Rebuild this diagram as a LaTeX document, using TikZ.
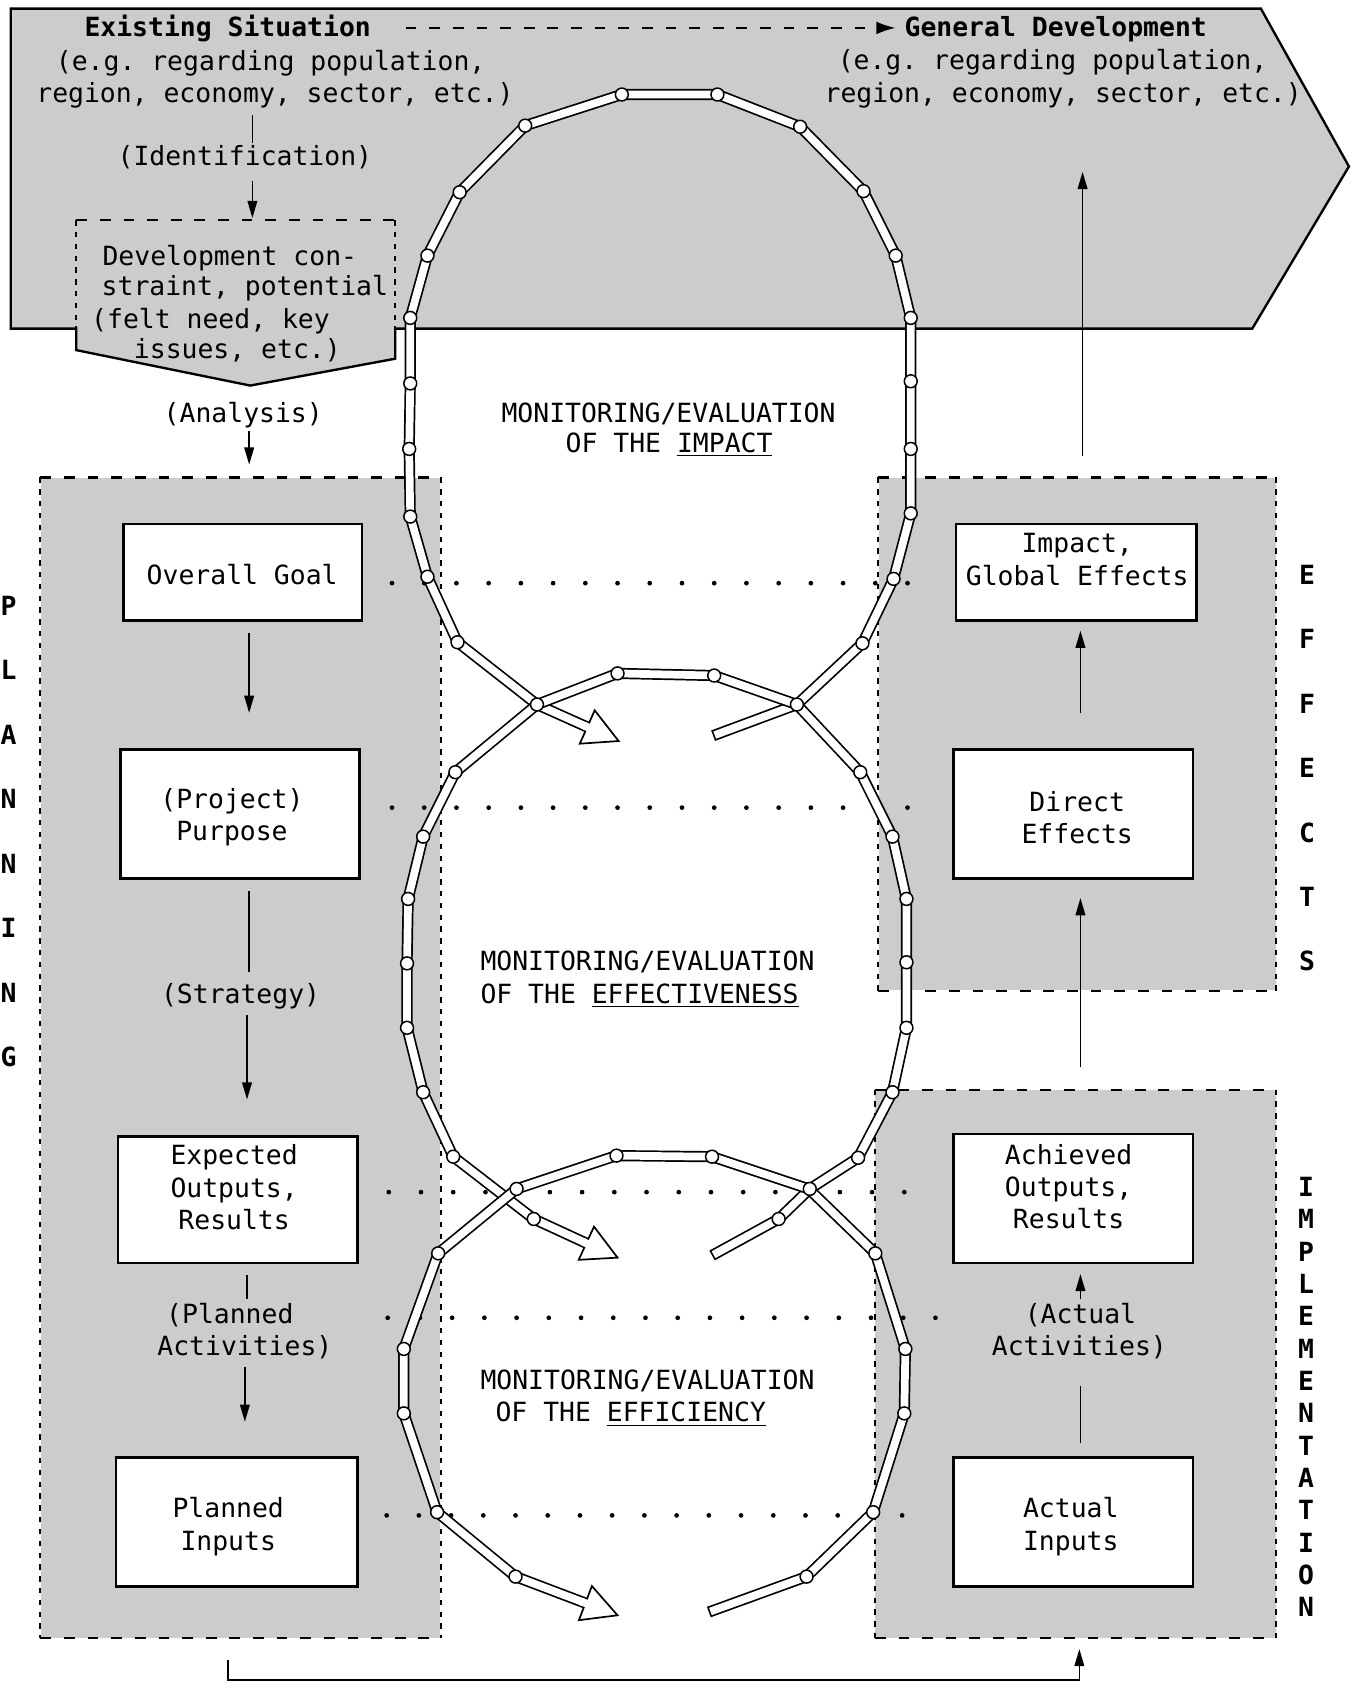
\documentclass[tikz,border=0pt]{standalone}
\usepackage{fontspec}
\newfontfamily\tw{DejaVu Sans Mono}
\usetikzlibrary{arrows.meta,calc}
\frenchspacing
\begin{document}
\begin{tikzpicture}[x=0.5pt,y=-0.5pt,
  every node/.style={font=\tw\fontsize{12.3}{15}\selectfont, inner sep=0pt},
  s/.style={text height=8pt, text depth=0pt},
  ml/.style={align=center},
  bf/.style={font=\tw\bfseries\fontsize{12.3}{15}\selectfont},
  box/.style={draw, fill=white, line width=1.2pt},
  region/.style={fill=black!20},
  hdash/.style={line width=1pt, dash pattern=on 5pt off 6pt},
  vdash/.style={line width=1pt, dash pattern=on 2.5pt off 3pt},
  arr/.style={line width=0.8pt, -{Triangle[length=8pt,width=4.5pt]}},
  ln/.style={line width=0.8pt},
  joint/.style={draw, fill=white, line width=0.7pt},
  head/.style={draw=black, fill=white, line width=0.8pt, line join=miter}
]
\useasboundingbox (0,0) rectangle (1261,1568);

% ---------- top band ----------
\filldraw[fill=black!20, line width=1.1pt, line join=miter]
  (71,326) -- (71,306) -- (10,306) -- (10,8) -- (1174,8) -- (1256,155)
  -- (1166,306) -- (368,306) -- (368,334) -- (233,359) -- cycle;
\draw[hdash] (71,205) -- (368,205);
\draw[vdash] (71,205) -- (71,306);
\draw[vdash] (368,205) -- (368,306);
\coordinate (devtop) at (235,205);

% ---------- regions ----------
\node[region, minimum width=186pt, minimum height=540pt] (plan) at (224,985) {};
\node[region, minimum width=185pt, minimum height=238.5pt] (effects) at (1003,683.5) {};
\node[region, minimum width=186.5pt, minimum height=255pt] (impl) at (1001.5,1270) {};
\foreach \r in {plan,effects,impl}{
  \draw[hdash] (\r.north west) -- (\r.north east);
  \draw[hdash] (\r.south west) -- (\r.south east);
  \draw[vdash] (\r.north west) -- (\r.south west);
  \draw[vdash] (\r.north east) -- (\r.south east);
}

% ---------- band texts ----------
\node[bf,s] (exist) at (212,26) {Existing Situation};
\node[s] (eg1) at (252,58) {(e.g. regarding population,};
\node[s] (reg1) at (256,87) {region, economy, sector, etc.)};
\node[s] (ident) at (228,146) {(Identification)};
\coordinate (ax0) at (235,0);
\draw[ln, shorten <=6pt, shorten >=2pt] (reg1.south -| ax0) -- (ident.north -| ax0);
\draw[arr, shorten <=7pt, shorten >=1pt] (ident.south -| ax0) -- (devtop);
\node[s] (dev1) at (214,239) {Development con-};
\node[s] (dev2) at (228,267) {straint, potential};
\node[s] (dev3) at (196,298) {(felt need, key};
\node[s] (dev4) at (221,326) {issues, etc.)};

\node[bf,s] (gendev) at (983,26) {General Development};
\node[s] (eg2) at (980,57) {(e.g. regarding population,};
\node[s] (reg2) at (990,87) {region, economy, sector, etc.)};
\draw[hdash, shorten <=16pt, shorten >=4pt, -{Latex[length=9pt,width=6pt]}] (exist.east) -- (gendev.west);

\coordinate (axr) at (1008,160);
\draw[arr, shorten <=10pt] (effects.north -| axr) -- (axr);

\node[s] (analysis) at (226.5,385) {(Analysis)};
\coordinate (axa) at (232,0);
\draw[arr, shorten <=4pt, shorten >=6pt] (analysis.south -| axa) -- (plan.north -| axa);

% ---------- loop texts ----------
\node[s] (m1a) at (622.5,385) {MONITORING/EVALUATION};
\node[s] (m1b) at (623,413) {OF THE \underline{IMPACT}};
\node[s, anchor=west] (m2a) at (447,896) {MONITORING/EVALUATION};
\node[s, anchor=west] (m2b) at (447,926) {OF THE \underline{EFFECTIVENESS}};
\node[s, anchor=west] (m3a) at (447,1286) {MONITORING/EVALUATION};
\node[s, anchor=west] (m3b) at (461,1316) {OF THE \underline{EFFICIENCY}};

% ---------- dotted lines ----------
\foreach \yy/\xs/\n in {543/365/16, 752/365/16, 1110/362/16, 1227/361/17, 1411/360/16}
  \foreach \k in {0,...,\n}
    \fill ({\xs+30*\k},\yy) circle (1.1pt);

% ---------- boxes ----------
\node[box, minimum width=111pt, minimum height=45pt] (goal) at (226,533) {};
\node[box, minimum width=111.5pt, minimum height=60pt] (purpose) at (223.5,758) {};
\node[box, minimum width=111.5pt, minimum height=59pt] (expected) at (221.5,1117) {};
\node[box, minimum width=112.5pt, minimum height=60pt] (planned) at (220.5,1417) {};
\node[box, minimum width=112pt, minimum height=45pt] (impact) at (1002,533) {};
\node[box, minimum width=111.5pt, minimum height=60pt] (direct) at (999.5,758) {};
\node[box, minimum width=111.5pt, minimum height=60pt] (achieved) at (999.5,1116) {};
\node[box, minimum width=111.5pt, minimum height=60pt] (actual) at (999.5,1417) {};

\node[s] (goalT) at (225.5,536) {Overall Goal};
\node[ml] (purposeT) at (216,761) {(Project)\\Purpose};
\node[ml] (expectedT) at (218,1105.5) {Expected\\Outputs,\\Results};
\node[ml] (plannedT) at (212.5,1421.5) {Planned\\Inputs};
\node[ml] (impactT) at (1003,521) {Impact,\\Global Effects};
\node[ml] (directT) at (1003,761) {Direct\\Effects};
\node[ml] (achievedT) at (995,1105) {Achieved\\Outputs,\\Results};
\node[ml] (actualT) at (997,1421.5) {Actual\\Inputs};

% ---------- left arrows ----------
\coordinate (axL1) at (232,0);
\coordinate (axL2) at (230,0);
\coordinate (axL3) at (228,0);
\draw[arr, shorten <=5pt, shorten >=16.5pt] (goal.south -| axL1) -- (purpose.north -| axL1);
\node[s] (strategy) at (224,926) {(Strategy)};
\draw[ln, shorten <=5pt, shorten >=6.5pt] (purpose.south -| axL1) -- (strategy.north -| axL1);
\draw[arr, shorten <=5.5pt, shorten >=16.5pt] (strategy.south -| axL2) -- (expected.north -| axL2);
\node[s] (pl1) at (214,1224) {(Planned};
\node[s] (pl2) at (228,1254) {Activities)};
\draw[ln, shorten <=5pt, shorten >=3pt] (expected.south -| axL2) -- (pl1.north -| axL2);
\draw[arr, shorten <=5pt, shorten >=16pt] (pl2.south -| axL3) -- (planned.north -| axL3);

% ---------- right arrows ----------
\coordinate (axR) at (1006,0);
\draw[arr, shorten <=16.5pt, shorten >=4pt] (direct.north -| axR) -- (impact.south -| axR);
\draw[arr, shorten <=30.5pt, shorten >=8.5pt] (achieved.north -| axR) -- (direct.south -| axR);
\node[s] (ac1) at (1006,1224) {(Actual};
\node[s] (ac2) at (1005,1254) {Activities)};
\draw[ln, shorten <=6pt, shorten >=14pt] (actual.north -| axR) -- (ac2.south -| axR);
\draw[arr, shorten <=3pt, shorten >=4.5pt] (ac1.north -| axR) -- (achieved.south -| axR);

% ---------- bottom connector ----------
\coordinate (bl) at (212,1564);
\coordinate (br) at (1005,1564);
\draw[arr, shorten <=10pt, shorten >=5pt] (plan.south -| bl) -- (bl) -- (br) -- (impl.south -| br);

% ---------- side letters ----------
\foreach \c [count=\i from 0] in {P,L,A,N,N,I,N,G}
  \node[bf,s] (pl\i) at (8,{565+60*\i}) {\c};
\foreach \c [count=\i from 0] in {E,F,F,E,C,T,S}
  \node[bf,s] (ef\i) at (1217,{536+60*\i}) {\c};
\foreach \c [count=\i from 0] in {I,M,P,L,E,M,E,N,T,A,T,I,O,N}
  \node[bf,s] (im\i) at (1216,{1106+30.1*\i}) {\c};

% ---------- loops ----------
\coordinate (h1p) at (500,656); \coordinate (h1t) at (576,690);
\coordinate (h1b) at ($(h1t)!16pt!(h1p)$);
\coordinate (h2p) at (497,1135); \coordinate (h2t) at (575,1171);
\coordinate (h2b) at ($(h2t)!16pt!(h2p)$);
\coordinate (h3p) at (480,1468); \coordinate (h3t) at (575,1504);
\coordinate (h3b) at ($(h3t)!16pt!(h3p)$);

% loop 1 (impact)
\foreach \w/\c/\s in {5.2pt/black/0pt, 3.6pt/white/0.8pt}
  \draw[line width=\w, draw=\c, shorten <=\s, line join=round]
    (664,685) -- (742,656) -- (803,599) -- (832,539) -- (848,478) -- (848,418)
    -- (848,355) -- (848,296) -- (834,238) -- (804,178) -- (745,118) -- (668,88)
    -- (579,88) -- (489,117) -- (428,179) -- (398,238) -- (382,296) -- (382,357)
    -- (381,418) -- (382,481) -- (398,537) -- (426,598) -- (h1p) -- (h1b);
\draw[head] (h1t) -- ($(h1b)!8.5pt!90:(h1t)$) -- ($(h1b)!8.5pt!-90:(h1t)$) -- cycle;
\draw[white, line width=3.6pt] ($(h1b)!2pt!(h1p)$) -- ($(h1b)!1.5pt!(h1t)$);

% loop 2 (effectiveness)
\foreach \w/\c/\s in {5.2pt/black/0pt, 3.6pt/white/0.8pt}
  \draw[line width=\w, draw=\c, shorten <=\s, line join=round]
    (663,1169) -- (725,1135) -- (754,1107) -- (799,1078) -- (831,1017) -- (844,957)
    -- (844,896) -- (844,837) -- (831,779) -- (801,719) -- (742,656) -- (665,629)
    -- (575,627) -- (500,656) -- (424,719) -- (394,779) -- (380,837) -- (379,897)
    -- (379,957) -- (394,1017) -- (422,1077) -- (h2p) -- (h2b);
\draw[head] (h2t) -- ($(h2b)!8.5pt!90:(h2t)$) -- ($(h2b)!8.5pt!-90:(h2t)$) -- cycle;
\draw[white, line width=3.6pt] ($(h2b)!2pt!(h2p)$) -- ($(h2b)!1.5pt!(h2t)$);

% loop 3 (efficiency)
\foreach \w/\c/\s in {5.2pt/black/0pt, 3.6pt/white/0.8pt}
  \draw[line width=\w, draw=\c, shorten <=\s, line join=round]
    (660,1501) -- (751,1468) -- (813,1408) -- (842,1316) -- (843,1256) -- (815,1167)
    -- (753,1107) -- (663,1077) -- (574,1076) -- (481,1107) -- (408,1167) -- (376,1256)
    -- (376,1316) -- (407,1408) -- (h3p) -- (h3b);
\draw[head] (h3t) -- ($(h3b)!8.5pt!90:(h3t)$) -- ($(h3b)!8.5pt!-90:(h3t)$) -- cycle;
\draw[white, line width=3.6pt] ($(h3b)!2pt!(h3p)$) -- ($(h3b)!1.5pt!(h3t)$);

% joints
\foreach \p in {(742,656), (803,599), (832,539), (848,478), (848,418), (848,355), (848,296),
  (834,238), (804,178), (745,118), (668,88), (579,88), (489,117), (428,179), (398,238),
  (382,296), (382,357), (381,418), (382,481), (398,537), (426,598), (500,656),
  (725,1135), (754,1107), (799,1078), (831,1017), (844,957), (844,896), (844,837),
  (831,779), (801,719), (665,629), (575,627), (424,719), (394,779), (380,837), (379,897),
  (379,957), (394,1017), (422,1077), (497,1135),
  (751,1468), (813,1408), (842,1316), (843,1256), (815,1167), (663,1077), (574,1076),
  (481,1107), (408,1167), (376,1256), (376,1316), (407,1408), (480,1468)}
  \draw[joint] \p circle (3pt);
\end{tikzpicture}
\end{document}
